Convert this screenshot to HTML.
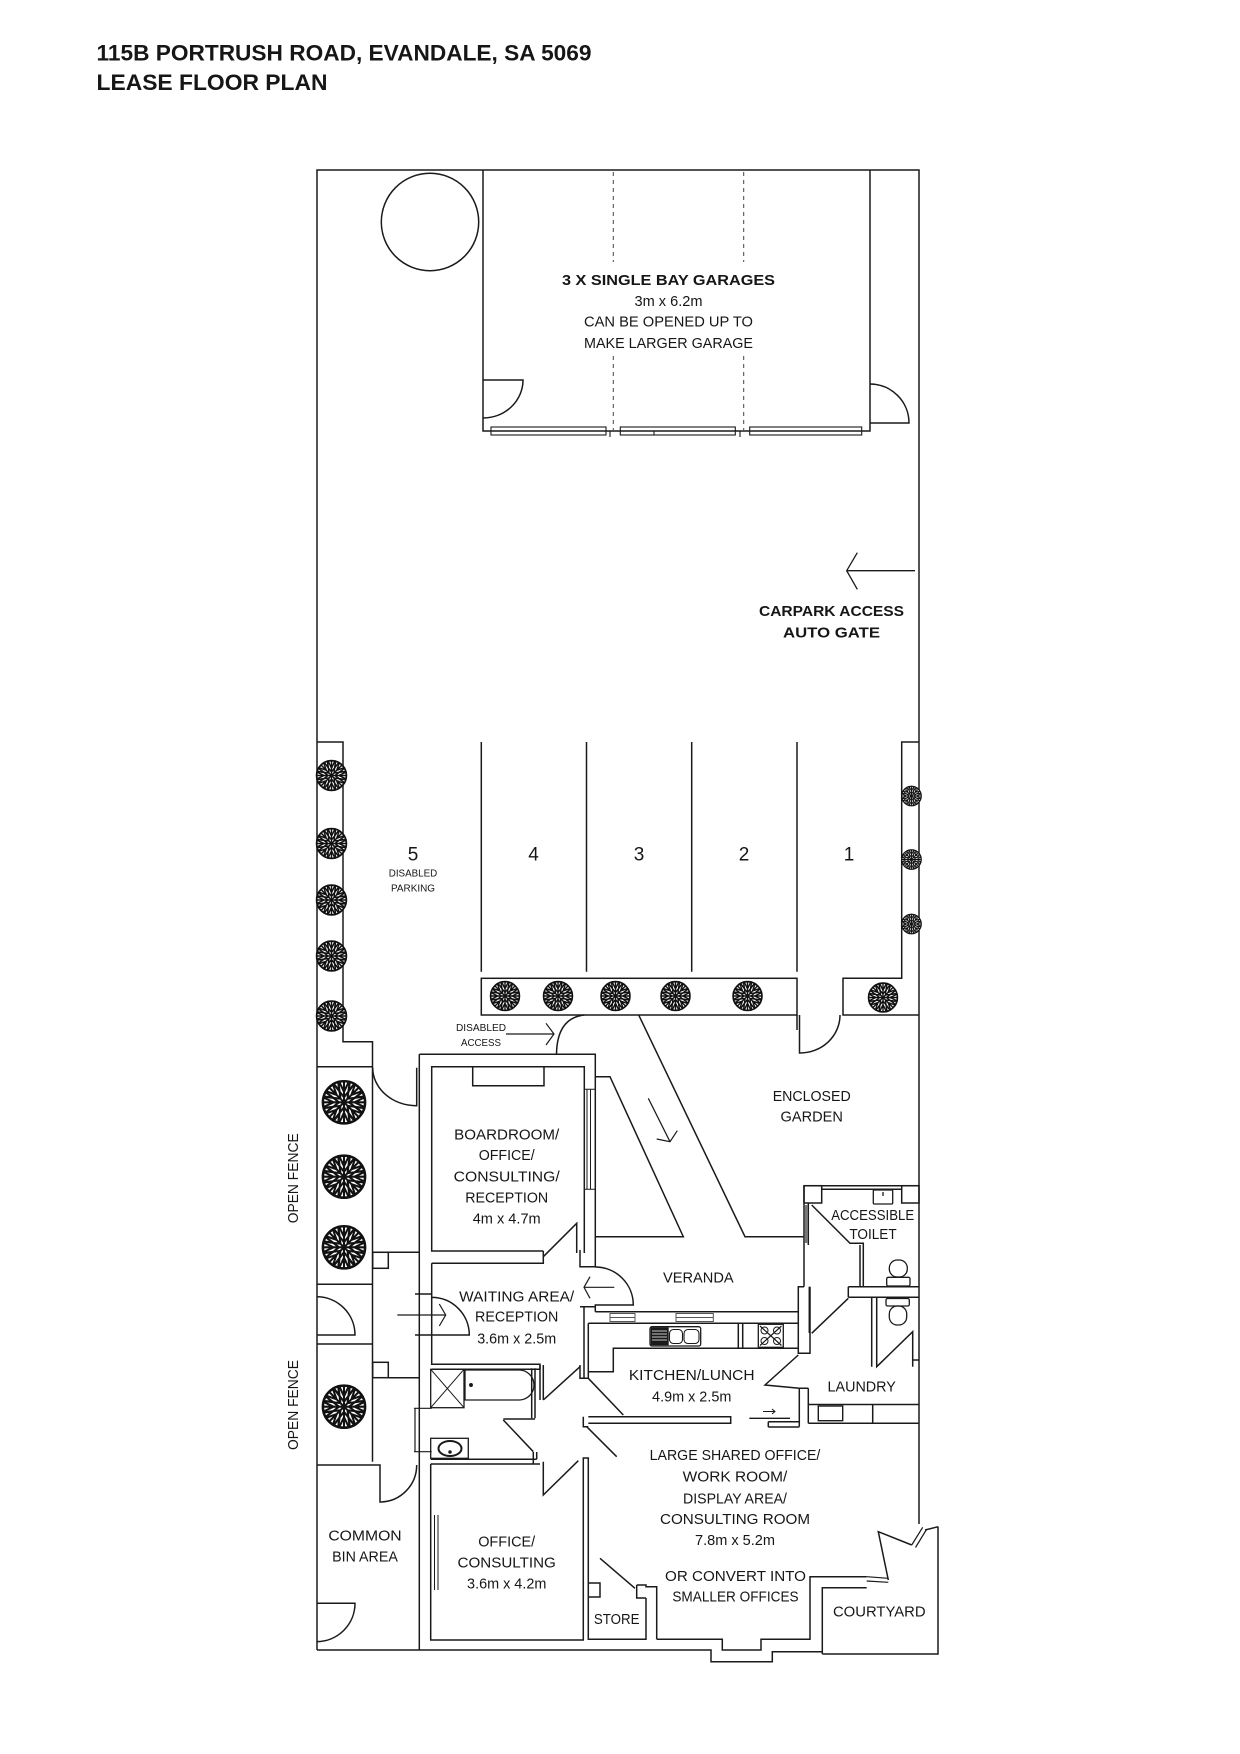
<!DOCTYPE html>
<html><head><meta charset="utf-8">
<style>
html,body{margin:0;padding:0;background:#fff;}
svg{display:block;}
text{font-family:"Liberation Sans",sans-serif;fill:#161616;}
.b{font-weight:bold;}
</style></head><body>
<svg width="1240" height="1754" viewBox="0 0 1240 1754" xmlns="http://www.w3.org/2000/svg">
<defs>
<symbol id="tree" viewBox="-10 -10 20 20">
 <circle r="9.3" fill="#fff" stroke="#111" stroke-width="1.1"/>
 <g stroke="#111" stroke-width="0.9" fill="none" stroke-linecap="round">
  <path d="M0,0 L9,0 M2.2,0 L7.6,4.2 M2.2,0 L7.6,-4.2 M4.6,0 L8.8,2 M4.6,0 L8.8,-2 M6,2.8 L8.2,4.6 M6,-2.8 L8.2,-4.6"/>
  <path transform="rotate(45)" d="M0,0 L9,0 M2.2,0 L7.6,4.2 M2.2,0 L7.6,-4.2 M4.6,0 L8.8,2 M4.6,0 L8.8,-2 M6,2.8 L8.2,4.6 M6,-2.8 L8.2,-4.6"/>
  <path transform="rotate(90)" d="M0,0 L9,0 M2.2,0 L7.6,4.2 M2.2,0 L7.6,-4.2 M4.6,0 L8.8,2 M4.6,0 L8.8,-2 M6,2.8 L8.2,4.6 M6,-2.8 L8.2,-4.6"/>
  <path transform="rotate(135)" d="M0,0 L9,0 M2.2,0 L7.6,4.2 M2.2,0 L7.6,-4.2 M4.6,0 L8.8,2 M4.6,0 L8.8,-2 M6,2.8 L8.2,4.6 M6,-2.8 L8.2,-4.6"/>
  <path transform="rotate(180)" d="M0,0 L9,0 M2.2,0 L7.6,4.2 M2.2,0 L7.6,-4.2 M4.6,0 L8.8,2 M4.6,0 L8.8,-2 M6,2.8 L8.2,4.6 M6,-2.8 L8.2,-4.6"/>
  <path transform="rotate(225)" d="M0,0 L9,0 M2.2,0 L7.6,4.2 M2.2,0 L7.6,-4.2 M4.6,0 L8.8,2 M4.6,0 L8.8,-2 M6,2.8 L8.2,4.6 M6,-2.8 L8.2,-4.6"/>
  <path transform="rotate(270)" d="M0,0 L9,0 M2.2,0 L7.6,4.2 M2.2,0 L7.6,-4.2 M4.6,0 L8.8,2 M4.6,0 L8.8,-2 M6,2.8 L8.2,4.6 M6,-2.8 L8.2,-4.6"/>
  <path transform="rotate(315)" d="M0,0 L9,0 M2.2,0 L7.6,4.2 M2.2,0 L7.6,-4.2 M4.6,0 L8.8,2 M4.6,0 L8.8,-2 M6,2.8 L8.2,4.6 M6,-2.8 L8.2,-4.6"/>
 </g>
 <circle r="1" fill="#111"/>
</symbol>
</defs>

<!-- Title -->
<text class="b" x="96.5" y="60.5" font-size="22" textLength="495" lengthAdjust="spacingAndGlyphs">115B PORTRUSH ROAD, EVANDALE, SA 5069</text>
<text class="b" x="96.5" y="90" font-size="22" textLength="231" lengthAdjust="spacingAndGlyphs">LEASE FLOOR PLAN</text>

<g fill="none" stroke="#1a1a1a" stroke-width="1.5" stroke-linejoin="miter">
 <!-- site boundary -->
 <path d="M317 1650 V170 H919 V1524"/>
 <!-- garage -->
 <path d="M483 170 V431 H870 V170"/>
 <circle cx="430" cy="222" r="48.7"/>
 <path d="M483 380 H523 A40 38 0 0 1 483 418"/>
 <path d="M870 384 A39 39 0 0 1 909 423 H870"/>
 <g stroke-width="1.1">
  <rect x="491" y="427" width="115" height="8"/>
  <rect x="620.3" y="427" width="115" height="8"/>
  <rect x="749.7" y="427" width="112" height="8"/>
  <path d="M610 431 V437 M740 431 V437 M654 431 V435"/>
 </g>
 <path d="M613.3 172 V262 M613.3 356 V430 M743.7 172 V262 M743.7 356 V430" stroke-width="1" stroke-dasharray="4 4" stroke="#444"/>
 <!-- carpark arrow -->
 <path d="M915 570.7 H846.7 M857.3 552.7 L846.7 570.7 L857.3 589.3" stroke-width="1.3"/>

 <!-- parking -->
 <path d="M317 742 H343 V1041.7 H372.5 V1461.7"/>
 <path d="M481.3 742 V971.7 M586.5 742 V971.7 M691.7 742 V971.7 M797 742 V971.7"/>
 <rect x="481.3" y="978.3" width="315.7" height="36.7"/>
 <path d="M919 742 H901.7 V978.3 H843 V1015 H919"/>
 <path d="M797 1015 V1030 M799.5 1015 V1053 A40 38 0 0 0 840 1015"/>
 <!-- ramp -->
 <path d="M638.7 1015 L745 1236.7 H804"/>
 <path d="M595.3 1076.7 H610 L683.3 1236.7 H595.3"/>
 <path d="M584.3 1015 Q557 1018 556.5 1054.3"/>
 <path d="M648.3 1098.3 L670 1141.7 M656.7 1139 L670 1141.7 L677.3 1130.7" stroke-width="1.2"/>
 <path d="M506 1034 H554 M546 1023.3 L554 1034 L546 1045" stroke-width="1.2"/>

 <!-- side passage / planters -->
 <path d="M317 1066.7 H372.5 M317 1284.3 H372.5"/>
 <path d="M372.7 1067.7 A44 38 0 0 0 416.7 1105.7 V1067.7"/>
 <rect x="372.7" y="1252.3" width="15.6" height="16"/>
 <path d="M372.7 1252.3 H419.3"/>
 <path d="M316.7 1296.7 A38.3 38.3 0 0 1 355 1335 H316.7"/>
 <path d="M317 1344 H372.7"/>
 <rect x="372.7" y="1362.3" width="15.6" height="15.4"/>
 <path d="M388.3 1377.7 H419.3"/>
 <path d="M317 1465 H380 V1502 A37 37 0 0 0 416.7 1465"/>
 <path d="M316.7 1603.3 H355 A38.3 38.3 0 0 1 316.7 1641.6"/>

 <!-- building outer -->
 <path d="M419.3 1054.3 H595.3 V1266.7 H580 V1250"/>
 <path d="M419.3 1054.3 V1650"/>
 <!-- boardroom -->
 <path d="M543.3 1251 H431.7 V1066.7 H584.3 V1253"/>
 <path d="M472.7 1066.7 V1085.7 H544 V1066.7"/>
 <path d="M587 1089.3 V1189.3 M590.5 1089.3 V1189.3 M584.3 1089.3 H595.3 M584.3 1189.3 H595.3" stroke-width="1"/>
 <path d="M431.7 1263.3 H543.3 V1251 M543.3 1256.7 L576.7 1223.3 V1253"/>
 <!-- waiting -->
 <path d="M431.7 1263.3 V1364.3 H540 V1369.3 M431.7 1369.3 H540"/>
 <path d="M431.7 1297.4 A37.6 37.6 0 0 1 469.3 1335 H431.7 M415 1294 H431.7 M415 1335 H431.7"/>
 <path d="M397.3 1315 H445.7 M439.3 1304 L445.7 1315 L439.3 1326" stroke-width="1.2"/>
 <path d="M595.3 1267 A38 38 0 0 1 633.3 1305 H595.3 V1311.7"/>
 <path d="M614.3 1287.3 H584 M590 1276.7 L584 1287.3 L590 1298.3" stroke-width="1.2"/>
 <path d="M580 1306.7 H595.3 M584 1306.7 V1378.3 M588.3 1323.3 V1378.3 M580 1365 V1378.3 H588.3"/>
 <!-- veranda bottom / kitchen top -->
 <path d="M595.3 1311.7 H798.3 M588.3 1323.3 H798.3"/>
 <g stroke-width="1" stroke="#555">
  <rect x="610" y="1313.5" width="25" height="8"/>
  <rect x="676" y="1313.5" width="37.3" height="8"/>
  <path d="M610 1317.5 H635 M676 1317.5 H713.3"/>
 </g>
 <!-- kitchen counter -->
 <path d="M588.3 1371.7 H613.3 V1348.3 H798.3 M738.3 1323.3 V1348.3 M742.7 1323.3 V1348.3"/>
 <path d="M810 1286.7 V1353.3 H798.3 V1286.7 H804"/>
 <!-- toilet block -->
 <path d="M804 1185.7 H919 M821.7 1189.3 H901.7"/>
 <rect x="804" y="1185.7" width="17.7" height="17.3"/>
 <rect x="901.7" y="1185.7" width="17.3" height="17.3"/>
 <path d="M804 1185.7 V1286.7 M808.3 1203 V1245"/>
 <path d="M806 1205 V1243" stroke="#777" stroke-width="2.5"/>
 <path d="M811.7 1205 L850 1243.3 H863.3 V1286.7 M860 1245 V1286.7"/>
 <path d="M848.3 1286.7 H919 M848.3 1297.3 H919 M848.3 1286.7 V1297.3"/>
 <path d="M809.3 1286.7 V1333"/>
 <path d="M811.7 1333.3 L848.3 1298.3"/>
 <path d="M871.7 1297.3 V1366.7 M876.7 1297.3 V1366.7 L912.7 1331.7 V1366.7 M912.7 1360 H919"/>
 <!-- toilets -->
 <g stroke-width="1.3">
  <rect x="889.3" y="1260" width="18" height="17" rx="8"/>
  <rect x="886.7" y="1277.3" width="23.3" height="8.7" rx="1.5"/>
  <rect x="886" y="1298.5" width="23.3" height="7.5" rx="1.5"/>
  <rect x="889.3" y="1306" width="17.4" height="19" rx="8"/>
  <rect x="873.3" y="1190" width="19.4" height="14" rx="1"/>
  <path d="M883 1192 V1196"/>
 </g>
 <!-- kitchen/laundry -->
 <path d="M798.3 1355 L765 1385 L799.3 1388.3 H808.3 M799.3 1388.3 V1426.7 M808.3 1388.3 V1423.3"/>
 <path d="M808.3 1404.5 H919 M808.3 1423.3 H919 M872.7 1404.5 V1423.3"/>
 <rect x="818.3" y="1406" width="24.4" height="14.7" stroke-width="1.4"/>
 <path d="M588.3 1416.7 H730.7 V1423.3 H588.3"/>
 <path d="M768.3 1421.7 H799.3 M768.3 1427 H799.3 M768.3 1421.7 V1427"/>
 <path d="M749.3 1418.3 H790" stroke-width="1.3"/>
 <path d="M763 1411.5 H775 M772 1409 L775 1411.5 L772 1414" stroke-width="1"/>
 <!-- sink & stove -->
 <rect x="650" y="1326.7" width="50.7" height="19.3" rx="2" stroke-width="1.3"/>
 <rect x="650.7" y="1327.3" width="18" height="18" fill="#1a1a1a" stroke="none"/>
 <rect x="669.5" y="1329.5" width="13" height="14" rx="4" stroke-width="1.1"/>
 <rect x="684" y="1329.5" width="15" height="14" rx="4" stroke-width="1.1"/>
 <path d="M652 1331 H667 M652 1334 H667 M652 1337 H667 M652 1340 H667" stroke="#fff" stroke-width="0.8"/>
 <rect x="758.3" y="1324.3" width="25" height="23" stroke-width="1.3"/>
 <path d="M760 1326 L781.5 1345.5 M781.5 1326 L760 1345.5" stroke-width="1.2"/>
 <g stroke-width="1"><circle cx="764.5" cy="1330.5" r="3.5"/><circle cx="777" cy="1330.5" r="3.5"/><circle cx="764.5" cy="1341" r="3.5"/><circle cx="777" cy="1341" r="3.5"/></g>
 <!-- bathroom -->
 <rect x="430.7" y="1369.3" width="33.3" height="38.4" stroke-width="1.3"/>
 <path d="M430.7 1369.3 L464 1407.7 M464 1369.3 L430.7 1407.7" stroke-width="1"/>
 <path d="M465 1370 H519 A15 15 0 0 1 519 1400 H465 Z" stroke-width="1.3"/>
 <circle cx="471" cy="1385" r="1.2" fill="#111"/>
 <path d="M531.7 1368.3 V1418.3 M535 1368.3 V1418.3 M540 1365 V1400 M543.3 1365 V1400"/>
 <rect x="430.7" y="1438.3" width="37.6" height="20" stroke-width="1.3"/>
 <ellipse cx="450" cy="1448.5" rx="11.5" ry="7.5" stroke-width="2"/>
 <circle cx="450" cy="1452" r="1" fill="#111"/>
 <path d="M415 1408.3 V1451.7 M414 1408.3 H431.7 M414 1451.7 H431.7" stroke-width="1.2"/>
 <path d="M430.7 1459.3 H536.7 M430.7 1464 H540 M533.3 1452 V1464 M536.7 1452 V1459.3"/>
 <!-- hallway doors -->
 <path d="M543.3 1400 L580 1366.7"/>
 <path d="M588.3 1378.3 L623.3 1415"/>
 <path d="M503.3 1419 H535 M503.3 1420 L533.3 1451.7"/>
 <path d="M543.3 1461.7 V1495 L578.3 1460.7"/>
 <path d="M586.7 1426.7 L616.7 1456.7 M583.3 1416.7 V1426.7 H588.3"/>
 <!-- office consulting -->
 <path d="M430.7 1464 V1640 H583.3 V1458 H588.3 V1640"/>
 <path d="M434.5 1515 V1590 M438 1515 V1590" stroke-width="1"/>
 <!-- store -->
 <path d="M588.3 1639.3 H646 V1598 M636.7 1585 V1598 H646 M636.7 1585 H646 V1586.7 H656.7 V1639.3"/>
 <path d="M600 1558.3 L635 1588.3 M588.3 1583 H600 V1597 H588.3"/>
 <!-- large office bottom and courtyard -->
 <path d="M656.7 1639.3 H722.3 V1650 H761 V1639.3 H810 V1576.7 H866.7"/>
 <path d="M866.7 1576.7 L888.3 1578.3 M866.7 1581 L888.3 1582.3" stroke-width="1.2"/>
 <path d="M888.3 1580 L878.3 1531.7 L911.7 1545"/>
 <path d="M911.7 1545 L922.7 1527.3 M915.5 1547.5 L926.5 1529.5" stroke-width="1.2"/>
 <path d="M925 1530 L938.3 1526.7"/>
 <path d="M822.3 1654 V1587.7 H866.7"/>
 <path d="M822.3 1654 H938 V1526.7"/>
 <path d="M317 1650 H711 V1661.7 H772.3 V1651.7 H822.3"/>
</g>

<!-- trees -->
<g>
 <use href="#tree" x="315.5" y="759.5" width="32" height="32"/>
 <use href="#tree" x="315.5" y="827.5" width="32" height="32"/>
 <use href="#tree" x="315.5" y="884" width="32" height="32"/>
 <use href="#tree" x="315.5" y="940" width="32" height="32"/>
 <use href="#tree" x="315.5" y="1000" width="32" height="32"/>
 <use href="#tree" x="901" y="785.5" width="21" height="21"/>
 <use href="#tree" x="901" y="849" width="21" height="21"/>
 <use href="#tree" x="901" y="913.5" width="21" height="21"/>
 <use href="#tree" x="489.5" y="980.5" width="31" height="31"/>
 <use href="#tree" x="542.5" y="980.5" width="31" height="31"/>
 <use href="#tree" x="600" y="980.5" width="31" height="31"/>
 <use href="#tree" x="660" y="980.5" width="31" height="31"/>
 <use href="#tree" x="732" y="980.5" width="31" height="31"/>
 <use href="#tree" x="867.5" y="982" width="31" height="31"/>
 <use href="#tree" x="321.3" y="1079.6" width="45.4" height="45.4"/>
 <use href="#tree" x="321.3" y="1154" width="45.4" height="45.4"/>
 <use href="#tree" x="321.3" y="1224.6" width="45.4" height="45.4"/>
 <use href="#tree" x="321.3" y="1384" width="45.4" height="45.4"/>
</g>

<!-- labels -->
<g text-anchor="middle" font-size="15">
 <text class="b" x="668.5" y="285" textLength="213" lengthAdjust="spacingAndGlyphs">3 X SINGLE BAY GARAGES</text>
 <text x="668.5" y="306" textLength="68" lengthAdjust="spacingAndGlyphs">3m x 6.2m</text>
 <text x="668.5" y="326.7" textLength="169" lengthAdjust="spacingAndGlyphs">CAN BE OPENED UP TO</text>
 <text x="668.5" y="348" textLength="169" lengthAdjust="spacingAndGlyphs">MAKE LARGER GARAGE</text>

 <text class="b" x="831.5" y="616" textLength="145" lengthAdjust="spacingAndGlyphs">CARPARK ACCESS</text>
 <text class="b" x="831.5" y="637.3" textLength="97" lengthAdjust="spacingAndGlyphs">AUTO GATE</text>

 <text x="413" y="860.5" font-size="19">5</text>
 <text x="533.5" y="860.5" font-size="19">4</text>
 <text x="639" y="860.5" font-size="19">3</text>
 <text x="744" y="860.5" font-size="19">2</text>
 <text x="849" y="860.5" font-size="19">1</text>
 <text x="413" y="876.7" font-size="10" textLength="48.5" lengthAdjust="spacingAndGlyphs">DISABLED</text>
 <text x="413" y="891.7" font-size="10" textLength="44" lengthAdjust="spacingAndGlyphs">PARKING</text>
 <text x="481" y="1031" font-size="10" textLength="50" lengthAdjust="spacingAndGlyphs">DISABLED</text>
 <text x="481" y="1046" font-size="10" textLength="40" lengthAdjust="spacingAndGlyphs">ACCESS</text>

 <text x="811.7" y="1101" textLength="78" lengthAdjust="spacingAndGlyphs">ENCLOSED</text>
 <text x="811.7" y="1121.7" textLength="62.3" lengthAdjust="spacingAndGlyphs">GARDEN</text>

 <text x="506.7" y="1139.3" textLength="105" lengthAdjust="spacingAndGlyphs">BOARDROOM/</text>
 <text x="506.7" y="1160" textLength="56" lengthAdjust="spacingAndGlyphs">OFFICE/</text>
 <text x="506.7" y="1181.7" textLength="106" lengthAdjust="spacingAndGlyphs">CONSULTING/</text>
 <text x="506.7" y="1202.7" textLength="83" lengthAdjust="spacingAndGlyphs">RECEPTION</text>
 <text x="506.7" y="1223.3" textLength="68" lengthAdjust="spacingAndGlyphs">4m x 4.7m</text>

 <text x="872.7" y="1220" textLength="83" lengthAdjust="spacingAndGlyphs">ACCESSIBLE</text>
 <text x="873" y="1239" textLength="47.3" lengthAdjust="spacingAndGlyphs">TOILET</text>
 <text x="698.3" y="1282.7" textLength="70.7" lengthAdjust="spacingAndGlyphs">VERANDA</text>

 <text x="516.7" y="1301.7" textLength="115" lengthAdjust="spacingAndGlyphs">WAITING AREA/</text>
 <text x="516.7" y="1321.7" textLength="83.3" lengthAdjust="spacingAndGlyphs">RECEPTION</text>
 <text x="516.7" y="1343.3" textLength="79" lengthAdjust="spacingAndGlyphs">3.6m x 2.5m</text>

 <text x="691.7" y="1380" textLength="125.7" lengthAdjust="spacingAndGlyphs">KITCHEN/LUNCH</text>
 <text x="691.7" y="1401.7" textLength="79.3" lengthAdjust="spacingAndGlyphs">4.9m x 2.5m</text>
 <text x="861.7" y="1391.7" textLength="68.3" lengthAdjust="spacingAndGlyphs">LAUNDRY</text>

 <text x="735" y="1460" textLength="170.7" lengthAdjust="spacingAndGlyphs">LARGE SHARED OFFICE/</text>
 <text x="735" y="1481.7" textLength="104.7" lengthAdjust="spacingAndGlyphs">WORK ROOM/</text>
 <text x="735" y="1503.3" textLength="104" lengthAdjust="spacingAndGlyphs">DISPLAY AREA/</text>
 <text x="735" y="1524" textLength="150" lengthAdjust="spacingAndGlyphs">CONSULTING ROOM</text>
 <text x="735" y="1545" textLength="80" lengthAdjust="spacingAndGlyphs">7.8m x 5.2m</text>
 <text x="735.5" y="1581" textLength="141" lengthAdjust="spacingAndGlyphs">OR CONVERT INTO</text>
 <text x="735.5" y="1601.7" textLength="126.3" lengthAdjust="spacingAndGlyphs">SMALLER OFFICES</text>

 <text x="879.3" y="1616.7" textLength="92.7" lengthAdjust="spacingAndGlyphs">COURTYARD</text>
 <text x="616.7" y="1624" textLength="45.7" lengthAdjust="spacingAndGlyphs">STORE</text>
 <text x="365" y="1540.7" textLength="73.3" lengthAdjust="spacingAndGlyphs">COMMON</text>
 <text x="365" y="1561.7" textLength="65.7" lengthAdjust="spacingAndGlyphs">BIN AREA</text>
 <text x="506.7" y="1546.7" textLength="57" lengthAdjust="spacingAndGlyphs">OFFICE/</text>
 <text x="506.7" y="1567.3" textLength="98.3" lengthAdjust="spacingAndGlyphs">CONSULTING</text>
 <text x="506.7" y="1588.3" textLength="79.3" lengthAdjust="spacingAndGlyphs">3.6m x 4.2m</text>

 <text transform="translate(298 1178.3) rotate(-90)" textLength="90" lengthAdjust="spacingAndGlyphs">OPEN FENCE</text>
 <text transform="translate(298 1405) rotate(-90)" textLength="90" lengthAdjust="spacingAndGlyphs">OPEN FENCE</text>
</g>
</svg>
</body></html>
